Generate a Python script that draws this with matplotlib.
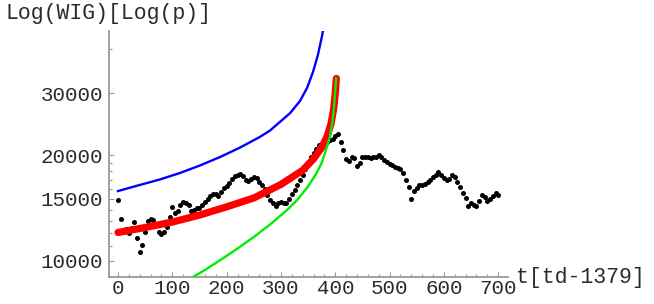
import matplotlib
matplotlib.use('Agg')
import matplotlib.pyplot as plt
from matplotlib.ticker import FixedLocator, FixedFormatter, NullFormatter

# ---- data ----
# WIG index (daily close, sampled every 5 trading days), t in [td-1379]
wig_t = list(range(0, 705, 5))
wig_p = [
    14900, 13200, 12100, 12300, 12000, 12400, 12900, 11600, 10600, 11100,
    12100, 13000, 13200, 13100, 12700, 12100, 11900, 12100, 12500, 13300,
    14200, 13700, 13900, 14400, 14700, 14600, 14400, 13900, 14000, 14100,
    14100, 14400, 14700, 15000, 15300, 15500, 15500, 15300, 15700, 16100,
    16300, 16600, 17100, 17400, 17600, 17700, 17400, 17000, 16900, 17100,
    17300, 17200, 16800, 16400, 16000, 15400, 14900, 14600, 14300, 14600,
    14700, 14600, 14600, 15000, 15500, 15900, 16400, 17000, 17600, 18200,
    19000, 19800, 20300, 20800, 21300, 21500, 21700, 21800, 22000, 22200,
    22600, 23000, 21800, 20700, 19500, 19200, 19700, 19600, 18600, 19000,
    19800, 19700, 19800, 19600, 19800, 19700, 20000, 19800, 19400, 19100,
    18900, 18700, 18500, 18400, 18200, 17800, 17000, 16200, 15000, 15800,
    16100, 16400, 16400, 16500, 16800, 17000, 17300, 17600, 17900, 17600,
    17200, 17000, 17100, 17500, 17300, 16800, 16200, 15600, 15100, 14300,
    14600, 14400, 14300, 14800, 15400, 15200, 14800, 15000, 15300, 15600,
    15400,
]

# fitted curves
blue_t = [0, 40, 77, 114, 151, 188, 225, 261, 280, 298, 317, 335, 348, 359, 368, 376, 379, 383]
blue_p = [15800, 16440, 17040, 17780, 18680, 19740, 21010, 22500, 23480, 24820,
          26320, 28470, 31000, 34420, 38470, 43850, 46800, 52000]

red_t = [0, 50, 100, 150, 200, 250, 300, 340, 360, 375, 385, 392, 397, 400, 402]
red_p = [12050, 12450, 12900, 13500, 14250, 15100, 16500, 18100, 19500, 21000,
         22600, 24500, 27000, 30000, 33000]

green_t = [130, 160, 190, 220, 250, 280, 310, 330, 350, 365, 375, 383, 390, 395, 398, 400, 401.5]
green_p = [8850, 9430, 10100, 10850, 11700, 12700, 13900, 14900, 16300, 17700,
           19000, 20700, 22500, 25000, 27700, 30500, 33000]

y_major = [10000, 15000, 20000, 30000]
y_minor = [11000, 12000, 13000, 14000, 16000, 17000, 18000, 19000, 40000]

FONT = 'Liberation Mono'
AXIS_GRAY = '#9a9a9a'
TEXT = '#2a2a2a'

fig = plt.figure(figsize=(6.54, 3.04), dpi=100)
ax = fig.add_axes([109 / 654, 27 / 304, 399 / 654, 246 / 304])

ax.plot(wig_t, wig_p, 'o', color='black', ms=3.6, mec='none', zorder=2)
ax.plot(red_t, red_p, color='#ff0000', lw=5.2, solid_capstyle='round', zorder=3)
ax.plot(green_t, green_p, color='#00ee00', lw=1.7, zorder=4)
ax.plot(blue_t, blue_p, color='#0000ff', lw=1.7, zorder=5)

ax.set_yscale('log')
ax.set_xlim(-16.6, 718)
ax.set_ylim(9006, 45000)

ax.yaxis.set_major_locator(FixedLocator(y_major))
ax.yaxis.set_major_formatter(FixedFormatter([str(v) for v in y_major]))
ax.yaxis.set_minor_locator(FixedLocator(y_minor))
ax.yaxis.set_minor_formatter(NullFormatter())
ax.xaxis.set_major_locator(FixedLocator(range(0, 800, 100)))
ax.xaxis.set_minor_locator(FixedLocator(range(0, 720, 20)))

for side in ['top', 'right']:
    ax.spines[side].set_visible(False)
for side in ['left', 'bottom']:
    ax.spines[side].set_color(AXIS_GRAY)
    ax.spines[side].set_linewidth(1.3)

ax.tick_params(which='both', direction='in', color=AXIS_GRAY, width=0.8)
ax.tick_params(which='major', length=3.5)
ax.tick_params(which='minor', length=2)
ax.tick_params(axis='y', which='major', pad=4, labelsize=15, labelcolor=TEXT)
ax.tick_params(axis='x', which='major', pad=1.5, labelsize=15, labelcolor=TEXT)
for lab in ax.get_xticklabels() + ax.get_yticklabels():
    lab.set_fontfamily(FONT)

fig.text(5 / 654, 1 - 13 / 304, 'Log(WIG)[Log(p)]', fontfamily=FONT, fontsize=15.5,
         color=TEXT, ha='left', va='center')
fig.text(516 / 654, (304 - 278) / 304, 't[td-1379]', fontfamily=FONT, fontsize=15.5,
         color=TEXT, ha='left', va='center')

fig.savefig('out.png', dpi=100)
